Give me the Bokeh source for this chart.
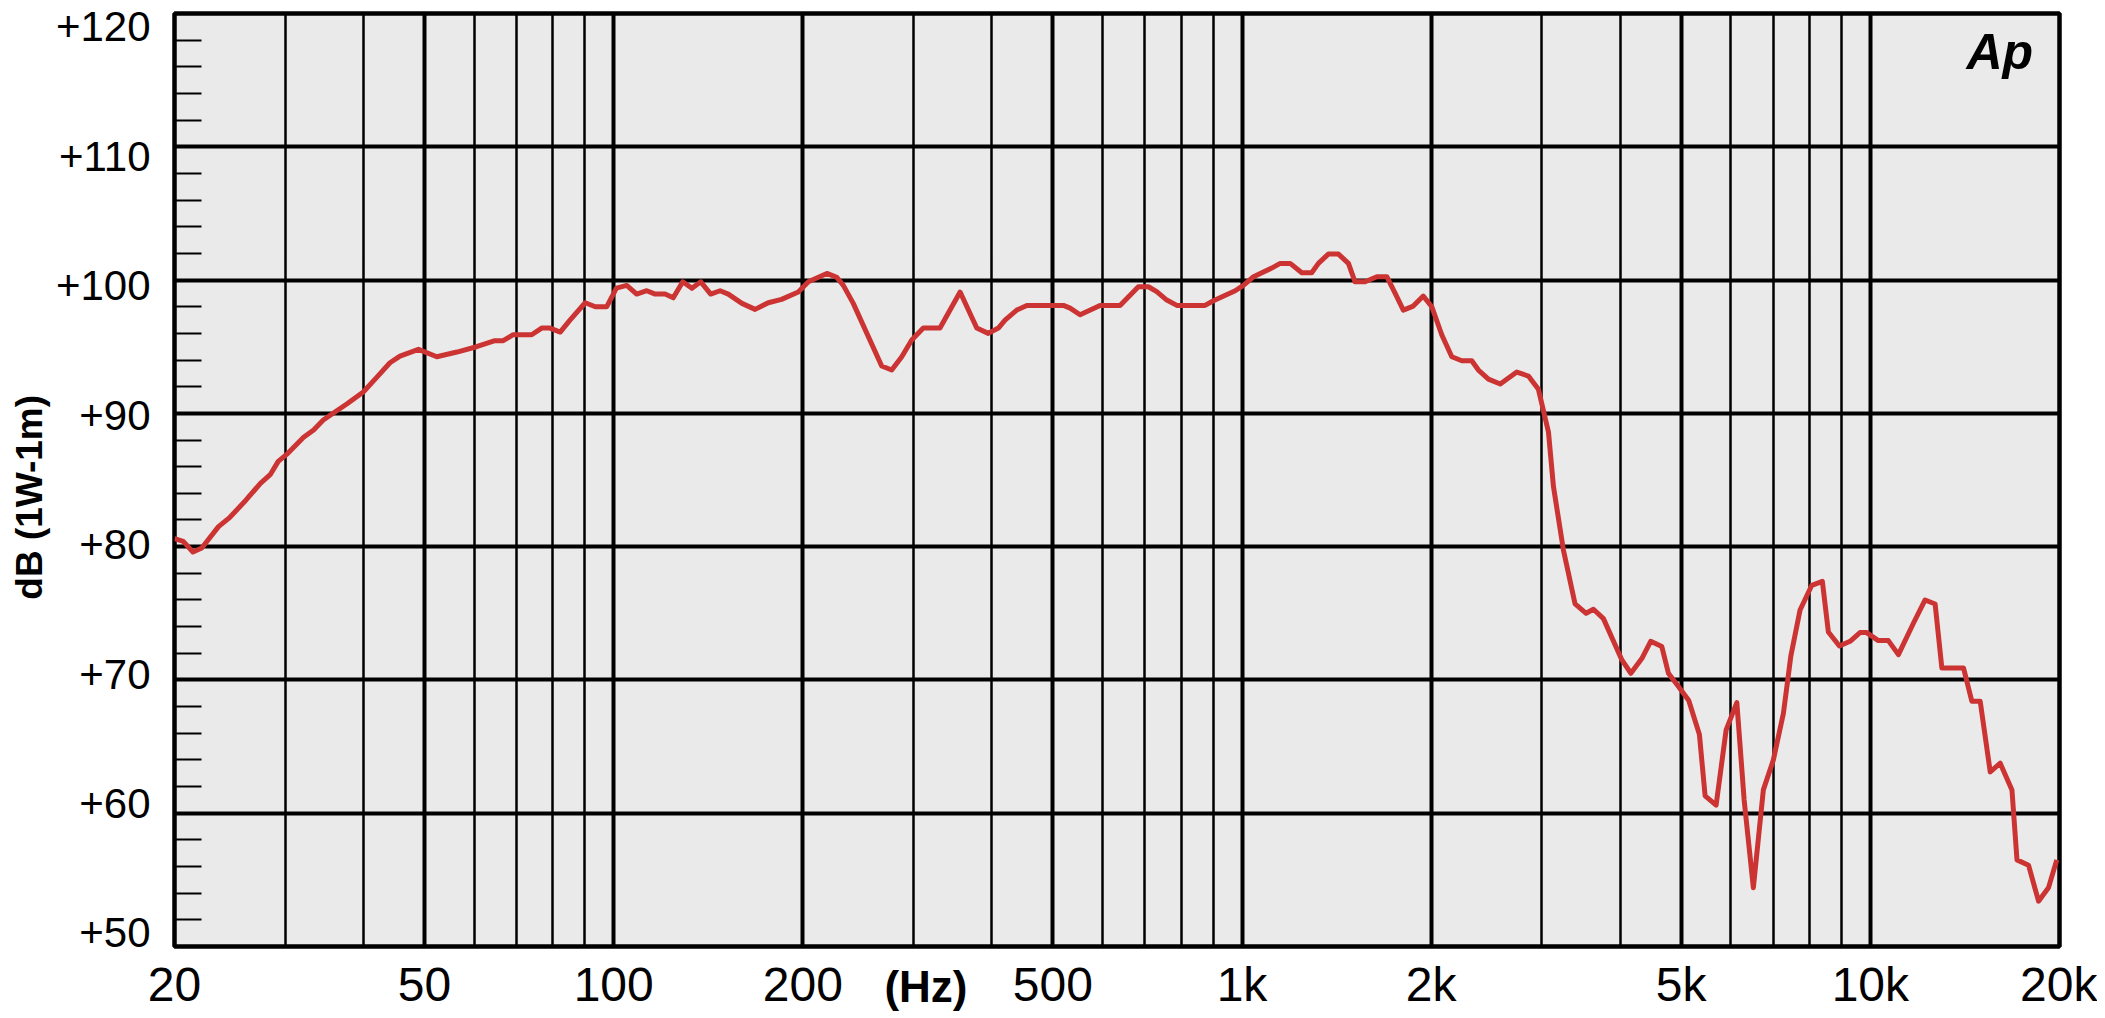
from bokeh.plotting import figure
from bokeh.models import Range1d, LinearAxis, LogAxis, FixedTicker, Grid, Label
from bokeh.embed import file_html
from bokeh.resources import INLINE

# ---- data ----
freq_hz = [20, 20.65, 21.4, 22.1, 23.5, 24.5, 26.0, 27.4, 28.4, 29.25, 30.3, 32.1, 33.3, 34.5,
           36.25, 37.6, 39.95, 41.96, 44.05, 45.7, 48.9, 52.3, 56.3, 60.5, 64.7, 66.7, 69.2,
           74.05, 76.8, 79.2, 82.2, 85.2, 90.1, 93.5, 97.5, 101, 104.9, 108.8, 112.9, 116.4,
           120.7, 124.4, 128.8, 133.2, 137.6, 142.7, 147.7, 152.2, 160, 167.9, 176.2, 185,
           196.7, 204.1, 218.4, 226.5, 232, 240.6, 267, 277, 287.4, 298.1, 311, 330.6, 355.9,
           378.3, 394.6, 409.5, 419.6, 438, 454.5, 519.7, 532.6, 552.4, 594.3, 639.6, 684,
           709.6, 731.6, 759, 787.5, 873.2, 900.4, 975.4, 1005, 1043, 1115, 1150, 1193, 1245,
           1291, 1323, 1372, 1424, 1477, 1513, 1570, 1639, 1700, 1753, 1806, 1873, 1943, 2005,
           2079, 2157, 2238, 2321, 2378, 2467, 2576, 2737, 2856, 2963, 3074, 3131, 3247, 3389,
           3529, 3625, 3760, 4023, 4158, 4328, 4471, 4657, 4771, 4950, 5140, 5345, 5458, 5682,
           5895, 6131, 6297, 6513, 6756, 7009, 7272, 7470, 7729, 8069, 8387, 8574, 8928, 9285,
           9626, 9865, 10297, 10683, 11083, 11709, 12222, 12679, 12995, 14068, 14505, 14956,
           15516, 16094, 16802, 17115, 17855, 18522, 19206, 19802]
level_db = [80.6, 80.4, 79.6, 79.9, 81.5, 82.2, 83.5, 84.75, 85.4, 86.4, 87.0, 88.2, 88.75, 89.5,
            90.2, 90.7, 91.6, 92.7, 93.8, 94.3, 94.8, 94.25, 94.6, 95.0, 95.45, 95.45, 95.9,
            95.9, 96.4, 96.4, 96.1, 97.0, 98.3, 98.0, 98.0, 99.4, 99.6, 98.95, 99.2, 98.95,
            98.95, 98.67, 99.87, 99.38, 99.87, 98.95, 99.2, 98.95, 98.25, 97.8, 98.3, 98.55,
            99.1, 99.87, 100.5, 100.2, 99.6, 98.25, 93.55, 93.25, 94.25, 95.5, 96.4, 96.4, 99.1,
            96.4, 96.0, 96.4, 97.0, 97.75, 98.1, 98.1, 97.9, 97.4, 98.1, 98.1, 99.5,
            99.5, 99.13, 98.5, 98.1, 98.1, 98.45, 99.2, 99.6, 100.25, 100.9, 101.25, 101.25, 100.55,
            100.55, 101.25, 101.95, 101.95, 101.25, 99.87, 99.87, 100.25, 100.25, 99.0, 97.75, 98.05, 98.8, 98.0,
            95.9, 94.25, 93.95, 93.95, 93.25, 92.57, 92.2, 93.1, 92.8, 91.8, 88.6, 84.5, 79.75, 75.7,
            75.0, 75.3, 74.6, 71.5, 70.5, 71.6, 72.9, 72.5, 70.5, 69.5, 68.45, 65.9, 61.3, 60.6,
            66.25, 68.3, 61.0, 54.4, 61.75, 64.0, 67.5, 71.75, 75.25, 77.1, 77.4, 73.6, 72.55, 72.9,
            73.55, 73.55, 72.95, 72.95, 71.9, 74.25, 76.0, 75.7, 70.9, 70.9, 68.4, 68.4,
            63.1, 63.75, 61.75, 56.5, 56.1, 53.4, 54.4, 56.5]

x_tick_hz = [20, 50, 100, 200, 500, 1000, 2000, 5000, 10000, 20000]
x_tick_labels = ["20", "50", "100", "200", "500", "1k", "2k", "5k", "10k", "20k"]
x_major_grid_hz = [50, 100, 200, 500, 1000, 2000, 5000, 10000]
x_minor_grid_hz = [30, 40, 60, 70, 80, 90, 300, 400, 600, 700, 800, 900,
                   3000, 4000, 6000, 7000, 8000, 9000]
y_tick_db = [50, 60, 70, 80, 90, 100, 110, 120]
y_tick_labels = ["+50", "+60", "+70", "+80", "+90", "+100", "+110", "+120"]
y_minor_db = [52, 54, 56, 58, 62, 64, 66, 68, 72, 74, 76, 78, 82, 84, 86, 88,
              92, 94, 96, 98, 102, 104, 106, 108, 112, 114, 116, 118]
x_title = "(Hz)"
x_title_pos_hz = 314
y_title = "dB (1W-1m)"
y_title_pos_db = 83.7
logo = "Ap"

FONT = "Liberation Sans"

p = figure(x_axis_type="log", x_range=Range1d(20, 20000), y_range=Range1d(50, 120),
           frame_width=1885, frame_height=933, output_backend="svg", toolbar_location=None,
           min_border_left=174, min_border_right=38, min_border_top=13, min_border_bottom=0,
           background_fill_color="#EAEAEA", border_fill_color="white")
p.outline_line_color = "black"
p.outline_line_width = 4.5

# grids
p.ygrid.ticker = FixedTicker(ticks=y_tick_db)
p.ygrid.grid_line_color = "black"
p.ygrid.grid_line_width = 4
p.xgrid.ticker = FixedTicker(ticks=x_major_grid_hz)
p.xgrid.grid_line_color = "black"
p.xgrid.grid_line_width = 4
p.add_layout(Grid(dimension=0, ticker=FixedTicker(ticks=x_minor_grid_hz),
                  grid_line_color="black", grid_line_width=2.5))

# x axis (tick labels)
xa = p.xaxis[0]
xa.ticker = FixedTicker(ticks=x_tick_hz)
xa.major_label_overrides = dict(zip(x_tick_hz, x_tick_labels))
xa.axis_line_color = None
xa.major_tick_line_color = None
xa.minor_tick_line_color = None
xa.major_tick_out = 0
xa.minor_tick_out = 0
xa.major_label_text_font = FONT
xa.major_label_text_font_size = "48px"
xa.major_label_text_color = "black"
xa.major_label_standoff = 11

# second bottom axis carrying the bold "(Hz)" on the same row
xh = LogAxis(ticker=FixedTicker(ticks=[x_title_pos_hz]),
             major_label_overrides={x_title_pos_hz: x_title},
             axis_line_color=None, major_tick_line_color=None, minor_tick_line_color=None,
             major_tick_out=0, minor_tick_out=0, major_label_standoff=-52,
             major_label_text_font=FONT, major_label_text_font_style="bold",
             major_label_text_font_size="44px", major_label_text_color="black")
p.add_layout(xh, "below")

# inner left axis: minor ticks only
ya = p.yaxis[0]
ya.ticker = FixedTicker(ticks=[], minor_ticks=y_minor_db)
ya.axis_line_color = None
ya.major_tick_line_color = None
ya.major_tick_out = 0
ya.major_label_standoff = 0
ya.minor_tick_in = 27
ya.minor_tick_out = 0
ya.minor_tick_line_width = 2
ya.minor_tick_line_color = "black"

# outer left axis: tick labels
p.extra_y_ranges = {"lab": Range1d(48.955, 121.035)}
yl = LinearAxis(y_range_name="lab", ticker=FixedTicker(ticks=y_tick_db),
                major_label_overrides=dict(zip(y_tick_db, y_tick_labels)),
                axis_line_color=None, major_tick_line_color=None, minor_tick_line_color=None,
                major_tick_out=0, minor_tick_out=0,
                major_label_text_font=FONT, major_label_text_font_size="42px",
                major_label_text_color="black", major_label_standoff=24)
p.add_layout(yl, "left")

# outermost left axis: the vertical bold title
yt = LinearAxis(ticker=FixedTicker(ticks=[y_title_pos_db]),
                major_label_overrides={y_title_pos_db: y_title},
                major_label_orientation="vertical",
                axis_line_color=None, major_tick_line_color=None, minor_tick_line_color=None,
                major_tick_out=0, minor_tick_out=0,
                major_label_text_font=FONT, major_label_text_font_style="bold",
                major_label_text_font_size="37px", major_label_text_color="black",
                major_label_standoff=2)
p.add_layout(yt, "left")

p.line(freq_hz, level_db, line_color="#CC3333", line_width=5, line_join="round")

p.add_layout(Label(x=18155, y=117.1, text=logo, text_align="right", text_baseline="alphabetic",
                   text_font=FONT, text_font_style="bold italic",
                   text_font_size="50px", text_color="black"))

open("out.html", "w").write(file_html(p, INLINE))
